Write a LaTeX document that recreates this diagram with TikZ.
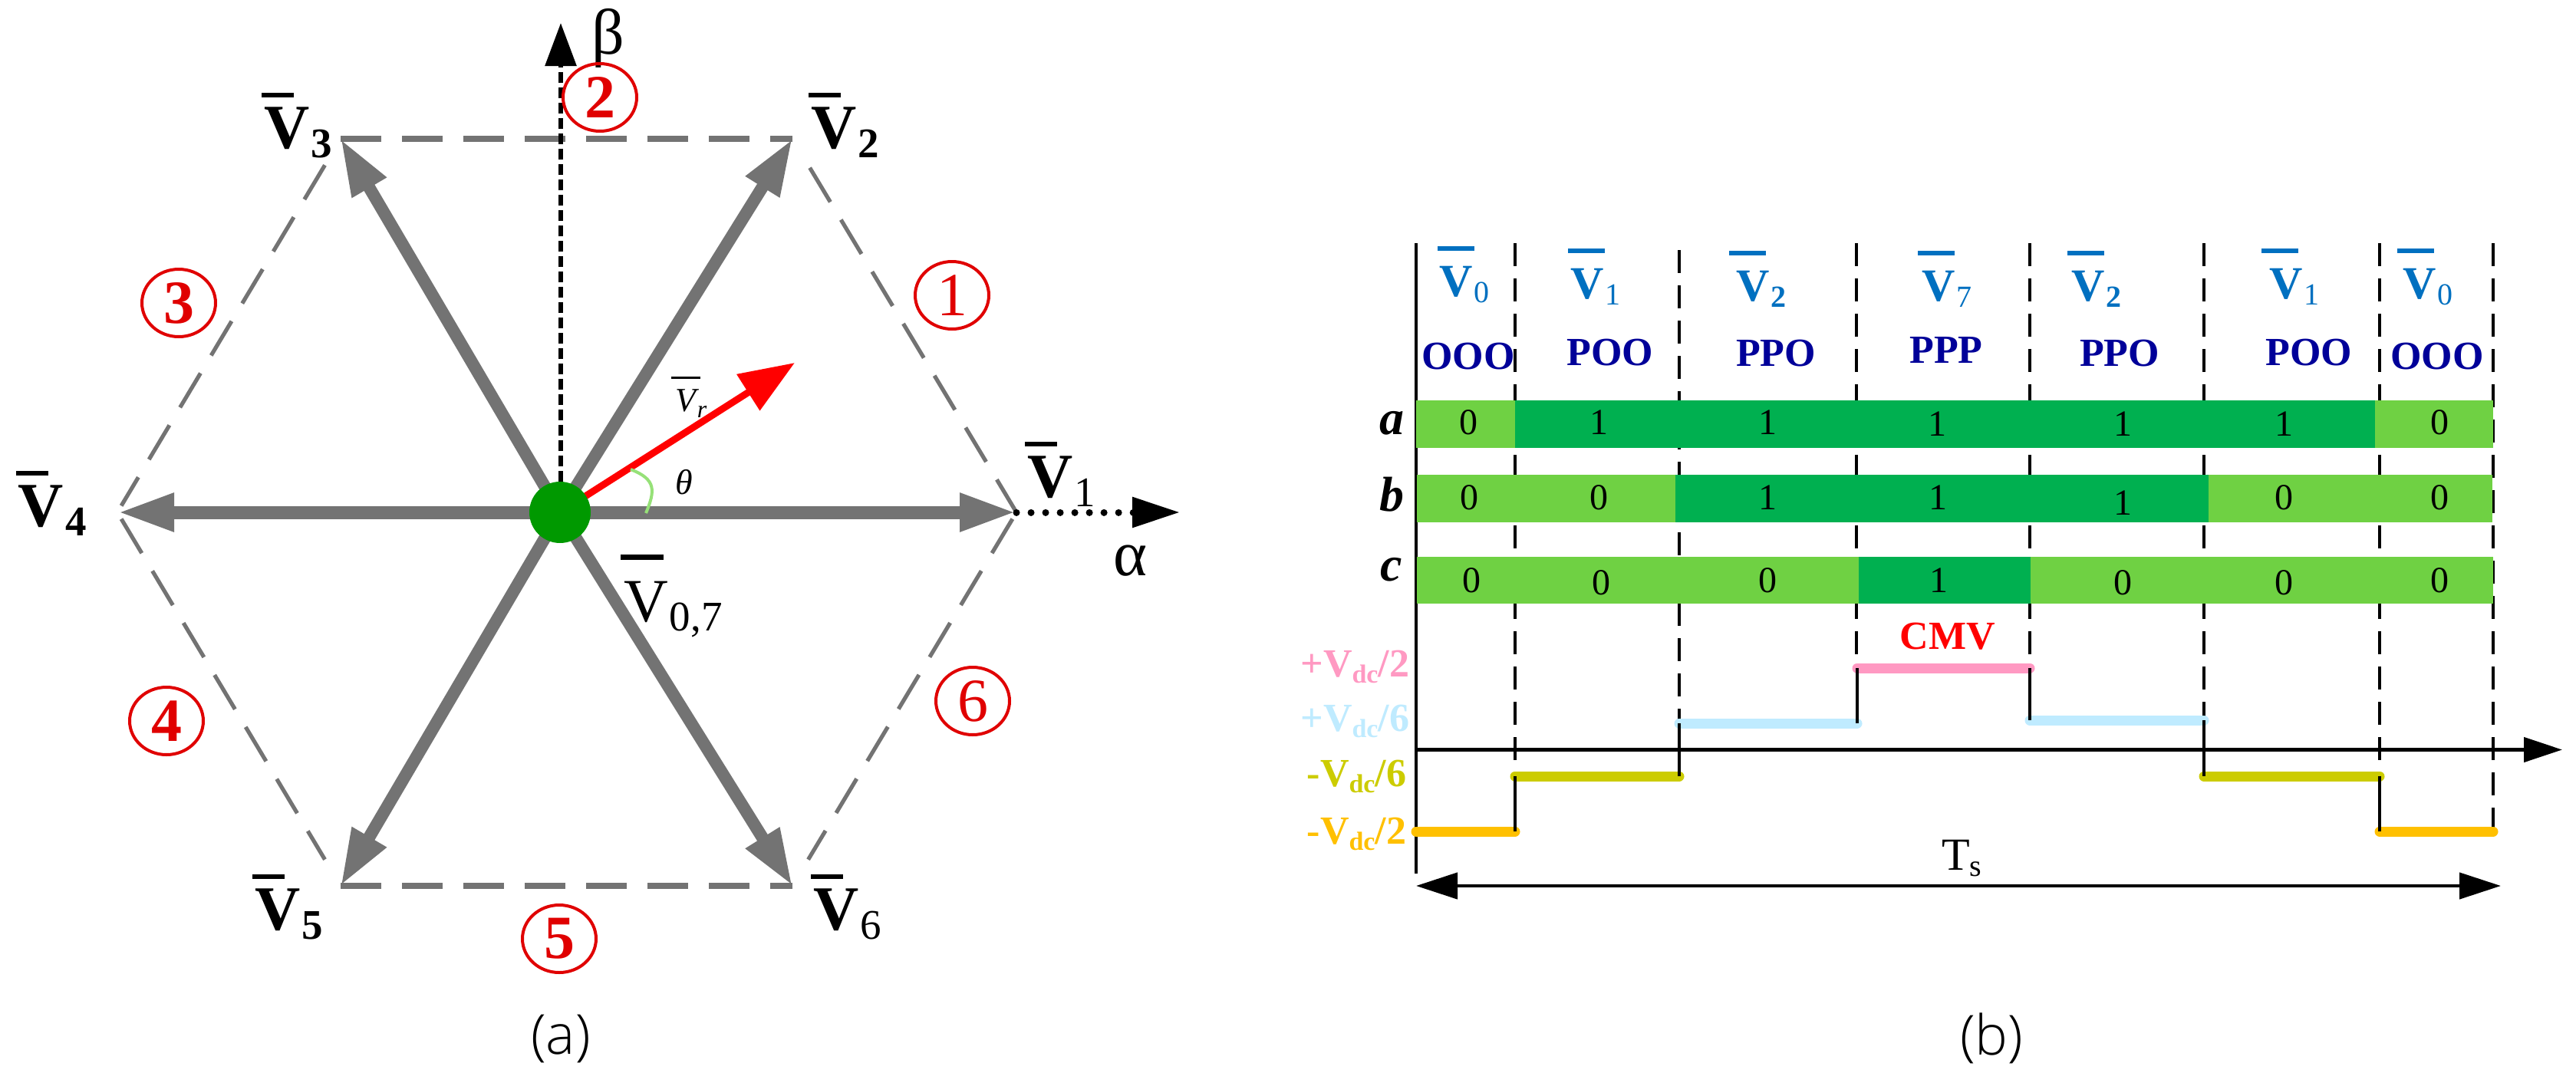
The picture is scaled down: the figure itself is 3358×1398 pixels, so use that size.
\documentclass[tikz,border=0pt]{standalone}
\usepackage{fontspec}
\usepackage{graphicx}
\setmainfont{Liberation Serif}
\newfontfamily\capfont{Open Sans Light}[BoldFont={Open Sans}]
\usetikzlibrary{arrows.meta,shapes.geometric}
\definecolor{hexgray}{HTML}{737373}
\definecolor{lightg}{HTML}{6FD143}
\definecolor{darkg}{HTML}{00B050}
\definecolor{cgreen}{HTML}{009900}
\definecolor{nred}{HTML}{E00000}
\definecolor{vblue}{HTML}{0070C0}
\definecolor{sblue}{HTML}{000099}
\definecolor{lpink}{HTML}{FF99C2}
\definecolor{lsky}{HTML}{BFEBFF}
\definecolor{lolive}{HTML}{CCCC00}
\definecolor{lorange}{HTML}{FFC000}
\definecolor{arcg}{HTML}{96E178}
% #1 V size, #2 bar offset, #3 bar width, #4 bar rise, #5 bar thickness, #6 sub size, #7 sub drop, #8 sub
\newcommand\vlab[8]{\makebox[0pt][l]{\hspace*{#2}\rule[#4]{#3}{#5}}{\fontsize{#1}{#1}\selectfont V}\kern1pt\raisebox{-#7}{\fontsize{#6}{#6}\selectfont #8}}
\newcommand\vmain[1]{\bfseries\vlab{41pt}{-1.5pt}{21pt}{33pt}{3pt}{27.5pt}{6pt}{#1}}
\newcommand\vblueb[2]{\bfseries\vlab{30pt}{#1}{24pt}{29.5pt}{3pt}{20pt}{4pt}{#2}}
\newcommand\levtxt[2]{\bfseries #1V\raisebox{-4pt}{\fontsize{17pt}{17pt}\selectfont dc}/#2}
\tikzset{
  lab/.style={inner sep=0pt,outer sep=0pt,anchor=base west},
  labc/.style={inner sep=0pt,outer sep=0pt,anchor=base},
  gvec/.style={draw=hexgray,line width=8pt,-{Triangle[length=37pt,width=24pt]}},
  hvec/.style={draw=hexgray,line width=8.5pt,-{Triangle[length=37pt,width=23pt]}},
  hexd/.style={draw=hexgray,line width=2.6pt,dash pattern=on 26pt off 13.5pt,line cap=butt},
  hexh/.style={draw=hexgray,line width=4pt,dash pattern=on 26.5pt off 13.5pt},
  secnum/.style={draw=nred,line width=2pt,ellipse,minimum width=48pt,minimum height=44pt,inner sep=0pt,text=nred,font=\fontsize{40pt}{40pt}\selectfont},
  secbold/.style={secnum,font=\bfseries\fontsize{40pt}{40pt}\selectfont},
  guide/.style={draw=black,line width=1.6pt,dash pattern=on 15pt off 8pt},
  wave/.style={draw=black,line width=1.6pt},
  bit/.style={inner sep=0pt,font=\fontsize{24pt}{24pt}\selectfont},
  state/.style={labc,text=sblue,font=\bfseries\fontsize{26pt}{26pt}\selectfont},
  lvl/.style={line width=6.5pt,line cap=round},
  levlab/.style={inner sep=0pt,outer sep=0pt,anchor=base east,font=\fontsize{26pt}{26pt}\selectfont},
  rowlab/.style={labc,font=\bfseries\itshape\fontsize{32pt}{32pt}\selectfont},
  captxt/.style={inner sep=0pt,font=\capfont\fontsize{36pt}{36pt}\selectfont},
}
\begin{document}
\begin{tikzpicture}[x=0.5pt,y=-0.5pt]
\useasboundingbox (0,0) rectangle (3358,1398);
\fill[white] (0,0) rectangle (3358,1398);
% ---------- panel (a)
\coordinate (O) at (730,668);
\coordinate (H1) at (1325,668);
\coordinate (H2) at (1033,181);
\coordinate (H3) at (444,181);
\coordinate (H4) at (153,668);
\coordinate (H5) at (444,1155);
\coordinate (H6) at (1033,1155);
\coordinate (betaT) at (731,30);
\coordinate (betaB) at (731,668);
\coordinate (alphaT) at (1538,668);
\coordinate (rT) at (1036,473);
% hexagon
\draw[hexh] (H3) -- (H2);
\draw[hexh] (H5) -- (H6);
\draw[hexd,shorten <=22pt] (H2) -- (H1);
\draw[hexd,shorten >=5pt,shorten <=20pt] (H3) -- (H4);
\draw[hexd,shorten <=5pt,shorten >=20pt] (H4) -- (H5);
\draw[hexd,shorten <=5pt,shorten >=20pt] (H1) -- (H6);
% axes
\draw[line width=3pt,dash pattern=on 7pt off 3pt,-{Triangle[length=28pt,width=20pt]}] (betaB) -- (betaT);
\draw[line width=4.5pt,line cap=round,dash pattern=on 0.01pt off 9.5pt,-{Triangle[length=31pt,width=19pt]}] (H1) -- (alphaT);
% vectors
\draw[hvec] (O) -- (H1);
\draw[hvec] (O) -- (H4);
\draw[gvec] (O) -- (H2);
\draw[gvec] (O) -- (H3);
\draw[gvec] (O) -- (H5);
\draw[gvec] (O) -- (H6);
% reference vector
\draw[red,line width=4.5pt,-{Triangle[length=36pt,width=27pt]}] (O) -- (rT);
\draw[draw=arcg,line width=2pt] (822,612) .. controls (856,625) and (854,640) .. (842,669);
\node[draw=none,fill=cgreen,circle,minimum size=40pt,inner sep=0pt] (orig) at (O) {};
% labels
\node[lab,font=\fontsize{42pt}{42pt}\selectfont] (beta) at (771,70) {β};
\node[lab,font=\fontsize{42pt}{42pt}\selectfont] (alpha) at (1451,750) {α};
\node[lab] (V1) at (1339,648) {\vmain{\mdseries 1}};
\node[lab] (V2) at (1057,193) {\vmain{2}};
\node[lab] (V3) at (344,193) {\vmain{3}};
\node[lab] (V4) at (24,686) {\vmain{4}};
\node[lab] (V5) at (332,1212) {\vmain{5}};
\node[lab] (V6) at (1060,1212) {\vmain{\mdseries 6}};
\node[lab] (V07) at (813,810) {\vlab{40pt}{-2pt}{28pt}{40pt}{3.5pt}{27.5pt}{6pt}{0,7}};
\node[lab,font=\itshape] (Vr) at (880,536) {\vlab{22pt}{-2.5pt}{19pt}{21pt}{1.5pt}{16pt}{4pt}{r}};
\node[lab,font=\itshape\fontsize{23pt}{23pt}\selectfont] (theta) at (880,644) {θ};
\node[secnum] (s1) at (1241,385) {1};
\node[secbold] (s2) at (782,127) {2};
\node[secbold] (s3) at (233,395) {3};
\node[secbold] (s4) at (217,940) {4};
\node[secbold] (s5) at (729,1224) {5};
\node[secnum] (s6) at (1268,914) {6};
\node[captxt] (capa) at (731,1354) {(a)};
% ---------- panel (b)
\foreach \n/\x/\top/\bot in {g1/1975/317/1084,g2/2189/326/943,g3/2420/317/871,g4/2646/317/871,g5/2873/317/939,g6/3102/317/1084,g7/3250/317/1084}{
  \coordinate (\n t) at (\x,\top);
  \coordinate (\n b) at (\x,\bot);
  \draw[guide] (\n t) -- (\n b);
}
\coordinate (axT) at (1846,317);
\coordinate (axB) at (1846,1139);
\draw[line width=1.6pt] (axT) -- (axB);
% rows
\foreach \xa/\ya/\xb/\yb/\c in {
 1846/522/1975/584/lightg, 1975/522/3096/584/darkg, 3096/522/3250/584/lightg,
 1847/619/2184/681/lightg, 2184/619/2879/681/darkg, 2879/619/3249/681/lightg,
 1847/726/2423/787/lightg, 2423/726/2647/787/darkg, 2647/726/3250/787/lightg}{
  \fill[\c] (\xa,\ya) rectangle (\xb,\yb);
}
\foreach \n/\x/\y/\t in {
 A1/1914/551/0,A2/2084/551/1,A3/2304/551/1,A4/2525/553/1,A5/2767/553/1,A6/2977/553/1,A7/3180/551/0,
 B1/1915/649/0,B2/2084/649/0,B3/2304/649/1,B4/2526/649/1,B5/2767/656/1,B6/2977/649/0,B7/3180/649/0,
 C1/1918/757/0,C2/2087/760/0,C3/2304/757/0,C4/2527/757/1,C5/2767/760/0,C6/2977/760/0,C7/3180/757/0}{
  \node[bit] (\n) at (\x,\y) {\t};
}
\node[rowlab] (ra) at (1814,566) {a};
\node[rowlab] (rb) at (1814,666) {b};
\node[rowlab] (rc) at (1814,757) {c};
% top labels
\node[lab,text=vblue] (t1) at (1876,386) {\vblueb{-1pt}{\mdseries 0}};
\node[lab,text=vblue] (t2) at (2047,389) {\vblueb{-1.5pt}{\mdseries 1}};
\node[lab,text=vblue] (t3) at (2263,392) {\vblueb{-4.5pt}{2}};
\node[lab,text=vblue] (t4) at (2505,392) {\vblueb{-2.5pt}{\mdseries 7}};
\node[lab,text=vblue] (t5) at (2700,392) {\vblueb{-2.5pt}{2}};
\node[lab,text=vblue] (t6) at (2958,389) {\vblueb{-5pt}{\mdseries 1}};
\node[lab,text=vblue] (t7) at (3132,389) {\vblueb{-3.5pt}{\mdseries 0}};
\node[state] (st1) at (1914,481) {OOO};
\node[state] (st2) at (2099,476) {POO};
\node[state] (st3) at (2315,477) {PPO};
\node[state] (st4) at (2537,473) {PPP};
\node[state] (st5) at (2763,477) {PPO};
\node[state] (st6) at (3010,476) {POO};
\node[state] (st7) at (3177,481) {OOO};
% waveform
\coordinate (L0) at (1846,1084);
\coordinate (L1) at (1975,1084);
\coordinate (L2) at (1975,1012);
\coordinate (L3) at (2189,1012);
\coordinate (L4) at (2189,943);
\coordinate (L5) at (2421,943);
\coordinate (L6) at (2421,871);
\coordinate (L7) at (2646,871);
\coordinate (L8) at (2646,939);
\coordinate (L9) at (2873,939);
\coordinate (L10) at (2873,1012);
\coordinate (L11) at (3102,1012);
\coordinate (L12) at (3102,1084);
\coordinate (L13) at (3250,1084);
\draw[lvl,lorange] (L0) -- (L1);
\draw[lvl,lolive] (L2) -- (L3);
\draw[lvl,lsky] (L4) -- (L5);
\draw[lvl,lpink] (L6) -- (L7);
\draw[lvl,lsky] (L8) -- (L9);
\draw[lvl,lolive] (L10) -- (L11);
\draw[lvl,lorange] (L12) -- (L13);
\draw[wave] (L1) -- (L2);
\draw[wave] (L3) -- (L4);
\draw[wave] (L5) -- (L6);
\draw[wave] (L7) -- (L8);
\draw[wave] (L9) -- (L10);
\draw[wave] (L11) -- (L12);
\coordinate (tS) at (1846,977.5);
\coordinate (tE) at (3340,977.5);
\draw[line width=2.3pt,-{Triangle[length=25pt,width=16pt]}] (tS) -- (tE);
\coordinate (tsL) at (1846,1155);
\coordinate (tsR) at (3260,1155);
\draw[line width=2.3pt,{Triangle[length=27pt,width=17pt]}-{Triangle[length=27pt,width=17pt]}] (tsL) -- (tsR);
\node[lab,font=\fontsize{30pt}{30pt}\selectfont] (Ts) at (2531,1134) {T\raisebox{-4pt}{\fontsize{20pt}{20pt}\selectfont s}};
\node[labc,text=red,font=\bfseries\fontsize{26pt}{26pt}\selectfont] (cmv) at (2539,846) {CMV};
\node[levlab,text=lpink] (l1) at (1837,882) {\levtxt{+}{2}};
\node[levlab,text=lsky] (l2) at (1837,953) {\levtxt{+}{6}};
\node[levlab,text=lolive] (l3) at (1833,1025) {\levtxt{-}{6}};
\node[levlab,text=lorange] (l4) at (1833,1100) {\levtxt{-}{2}};
\node[captxt] (capb) at (2596,1354) {(b)};
\end{tikzpicture}
\end{document}
